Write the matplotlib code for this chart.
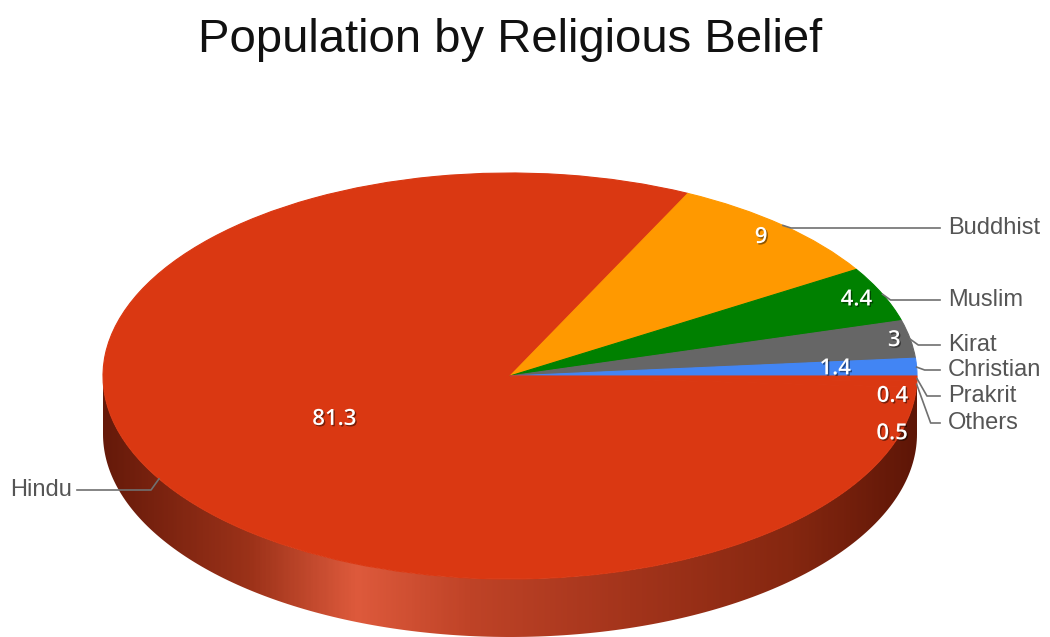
import numpy as np
import matplotlib
matplotlib.use("Agg")
import matplotlib.pyplot as plt
import matplotlib.patheffects as pe
from matplotlib.patches import Polygon
from matplotlib.transforms import Affine2D
from matplotlib.colors import LinearSegmentedColormap

# data
religions = ["Hindu", "Buddhist", "Muslim", "Kirat", "Christian", "Prakrit", "Others"]
shares = [81.3, 9, 4.4, 3, 1.4, 0.4, 0.5]
value_text = ["81.3", "9", "4.4", "3", "1.4", "0.4", "0.5"]
colors = ["#DA3812", "#FF9900", "#008000", "#666666", "#4285F4", "#DA3812", "#DA3812"]

# layout (pixels, y measured from the top of the image)
W, H = 1050, 637
cx, cy_pix = 510, 376
rx, ry = 407, 203
depth = 58
k = ry / rx
cy = H - cy_pix

# where the value labels sit: radial fraction + extra downward shift
value_r = [0.50, 0.92, 0.93, 0.96, 0.80, 0.94, 0.94]
value_dy = [-8, 0, 0, 0, 0, 18, 50]
# outside label rows
label_y = [490, 228, 300, 345, 370, 396, 423]

plt.rcParams["font.family"] = ["Liberation Sans", "DejaVu Sans"]
fig = plt.figure(figsize=(W / 100, H / 100), dpi=100)
ax = fig.add_axes([0, 0, 1, 1])

wedges, _ = ax.pie(shares, colors=colors, startangle=-180 * 0.9 / 100 * 2,
                   counterclock=False, center=(cx, cy), radius=rx,
                   wedgeprops=dict(linewidth=0.8), frame=True)
squash = Affine2D().translate(-cx, -cy).scale(1, k).translate(cx, cy)
for w in wedges:
    w.set_transform(squash + ax.transData)
    w.set_edgecolor(w.get_facecolor())
    w.set_zorder(3)

ax.set_aspect("auto")
ax.set_xlim(0, W)
ax.set_ylim(0, H)
ax.axis("off")

# cylinder side with a horizontal shading
t = np.linspace(np.pi, 2 * np.pi, 200)
top = np.column_stack([cx + rx * np.cos(t), cy + ry * np.sin(t)])
bot = top[::-1] - [0, depth]
side = Polygon(np.vstack([top, bot]), closed=True, facecolor="none",
               edgecolor="none", zorder=2)
ax.add_patch(side)
shade = LinearSegmentedColormap.from_list("side", [
    (0.00, "#661A0A"), (0.18, "#9C3219"), (0.31, "#DE5A3C"),
    (0.45, "#BF4327"), (0.65, "#A3341B"), (0.85, "#852710"), (1.00, "#5E1607")])
grad = np.linspace(0, 1, 400).reshape(1, -1)
img = ax.imshow(grad, cmap=shade, aspect="auto", zorder=2,
                extent=(cx - rx, cx + rx, cy - ry - depth - 2, cy + 2))
img.set_clip_path(side)

# labels
shadow = [pe.withSimplePatchShadow(offset=(1, -1), shadow_rgbFace="black", alpha=0.45)]
for i, w in enumerate(wedges):
    mid = np.deg2rad((w.theta1 + w.theta2) / 2)
    vx = cx + value_r[i] * rx * np.cos(mid)
    vy = cy + value_r[i] * ry * np.sin(mid) - value_dy[i]
    ax.text(vx, vy, value_text[i], color="white", fontsize=16, fontweight="semibold",
            family=["Open Sans", "DejaVu Sans"], ha="center", va="center",
            zorder=5, path_effects=shadow)

    axp = cx + rx * np.cos(mid)
    ayp = cy + ry * np.sin(mid)
    ly = H - label_y[i]
    if np.cos(mid) >= 0:
        ex = axp + (8 if i < 5 else 10 + 4 * (i - 5))
        xs = [axp, ex, 940]
        ax.text(948, ly, religions[i], color="#555555", fontsize=17,
                ha="left", va="center", zorder=5)
    else:
        ex = axp - 8
        xs = [axp, ex, 77]
        ax.text(72, ly, religions[i], color="#555555", fontsize=17,
                ha="right", va="center", zorder=5)
    ax.plot(xs, [ayp, ly, ly], color="#707070", lw=1.2, zorder=4)

fig.text(0.486, 1 - 40 / H, "Population by Religious Belief", fontsize=34,
         color="#111111", ha="center", va="center")

fig.savefig("out.png", dpi=100)
